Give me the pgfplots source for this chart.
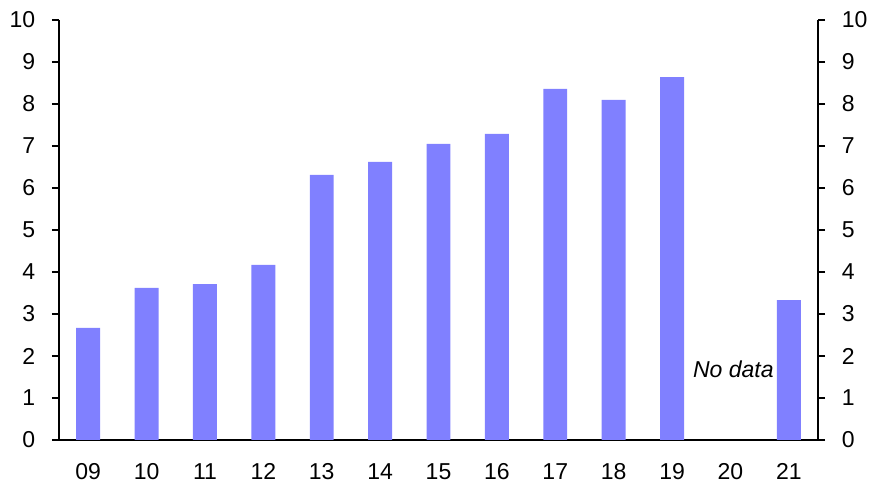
\documentclass[border=0pt]{standalone}
\usepackage{fontspec}
\setmainfont{Liberation Sans}
\usepackage{pgfplots}
\pgfplotsset{compat=1.18}
\definecolor{barblue}{RGB}{128,128,255}
\begin{document}
\fontsize{23bp}{27bp}\selectfont
\begin{tikzpicture}
\path[use as bounding box] (0,0) rectangle (881bp,492bp);
\pgfplotsset{
  common/.style={
    scale only axis,
    width=759bp, height=420bp,
    at={(59bp,52bp)}, anchor=south west,
    xmin=-0.5, xmax=12.5, ymin=0, ymax=10,
    ytick={0,1,...,10},
    tick align=outside,
    major tick length=7bp,
    minor tick length=7bp,
    axis line style={line width=1.8bp},
    every tick/.style={black, line width=1.8bp},
    /pgf/number format/assume math mode=true,
    tick label style={font=\fontsize{23bp}{27bp}\selectfont},
  }
}
\begin{axis}[common,
  axis x line*=bottom, axis y line*=left,
  xtick={0,...,12},
  xticklabels={09,10,11,12,13,14,15,16,17,18,19,20,21},
  x tick style={draw=none},
  minor xtick={-0.5,0.5,...,12.5},
  minor x tick style={black, line width=1.8bp},
  xticklabel style={yshift=-9bp},
  yticklabel style={xshift=-9bp},
]
\addplot[ybar, bar width=0.41, fill=barblue, draw=none] coordinates {
(0,2.67) (1,3.62) (2,3.71) (3,4.17) (4,6.31) (5,6.62) (6,7.05)
(7,7.29) (8,8.36) (9,8.10) (10,8.64) (12,3.33)};
\node[font=\itshape\fontsize{23bp}{27bp}\selectfont] at (axis cs:11.05,1.68) {No data};
\end{axis}
\begin{axis}[common,
  axis x line=none, axis y line*=right,
  yticklabel style={anchor=west, xshift=9bp},
]
\addplot[draw=none] coordinates {(0,0)};
\end{axis}
\end{tikzpicture}
\end{document}
